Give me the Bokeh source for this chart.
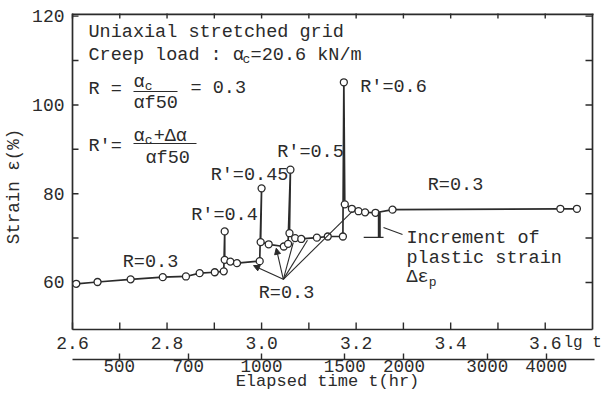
import math
from bokeh.plotting import figure
from bokeh.models import (LinearAxis, FixedTicker, CustomJSTickFormatter, Label, Arrow,
                          NormalHead)
from bokeh.core.properties import value
from bokeh.embed import file_html
from bokeh.resources import INLINE

# ---------------- data ----------------
lg_t = [2.608, 2.653, 2.723, 2.791, 2.840, 2.869, 2.901, 2.920,
        2.922, 2.922, 2.934, 2.948, 2.996,
        3.000, 2.998, 3.015, 3.047, 3.056,
        3.061, 3.059, 3.071, 3.084, 3.117, 3.140, 3.172,
        3.174, 3.176, 3.191, 3.205, 3.219, 3.241, 3.277, 3.632, 3.667]
strain = [59.7, 60.1, 60.7, 61.2, 61.35, 62.1, 62.3, 62.5,
          71.5, 65.1, 64.7, 64.35, 64.8,
          81.2, 69.1, 68.6, 68.1, 68.7,
          85.4, 71.1, 70.0, 69.8, 70.1, 70.35, 70.35,
          105.1, 77.6, 76.6, 76.05, 75.8, 75.7, 76.4, 76.6, 76.6]

load_labels = ["R=0.3", "R'=0.4", "R'=0.45", "R'=0.5", "R'=0.6", "R=0.3", "R=0.3"]

lg_major = [2.6, 2.8, 3.0, 3.2, 3.4, 3.6]
lg_minor = [2.7, 2.9, 3.1, 3.3, 3.5]
strain_major = [60, 80, 100, 120]
strain_minor = [70, 90, 110]
hour_ticks = [500, 700, 1000, 1500, 2000, 3000, 4000]

# leader lines from the middle "R=0.3" label to the R=0.3 stages
leader_lgt = [2.983, 3.031, 3.067, 3.097, 3.192]
leader_strain = [63.8, 67.7, 69.0, 69.5, 76.0]
leader_origin = (3.046, 60.7)

# increment of plastic strain marker
inc_lgt = 3.249
inc_low = 70.15
inc_high = 75.8

# ---------------- layout ----------------
XB0, XB1 = 2.6, 3.70          # lg t extent of the box
YB0, YB1 = 49.4, 120.6        # strain extent of the box
BL, BR, BT, BB = 72, 592, 13, 329     # box edges on the canvas (px)
FL, FR, FT, FB = 54, 600, 13, 359     # plotting frame edges (px), FB = hour axis line
W = 611

INK = "#2b2b2b"
FONT = "Liberation Mono"


def px_x(px):
    return XB0 + (px - BL) * (XB1 - XB0) / (BR - BL)


def px_y(py):
    return YB1 - (py - BT) * (YB1 - YB0) / (BB - BT)


DX = (XB1 - XB0) / (BR - BL)   # lg units per pixel
DY = (YB1 - YB0) / (BB - BT)   # strain units per pixel

p = figure(frame_width=FR - FL, frame_height=FB - FT,
           x_range=(px_x(FL), px_x(FR)), y_range=(px_y(FB), px_y(FT)),
           x_axis_type=None, y_axis_type=None,
           output_backend="svg", toolbar_location=None,
           min_border_left=FL, min_border_right=W - FR,
           min_border_top=FT, min_border_bottom=33)
p.background_fill_color = "white"
p.border_fill_color = "white"
p.outline_line_color = None

# elapsed hours axis (real bottom axis of the frame)
xh = LinearAxis(ticker=FixedTicker(ticks=[math.log10(h) for h in hour_ticks], minor_ticks=[]),
                formatter=CustomJSTickFormatter(code="return Math.round(Math.pow(10, tick)).toString()"),
                bounds=(XB0, XB1 + 1.5 * DX), axis_label="Elapsed time t(hr)")
xh.axis_line_color = INK
xh.axis_line_width = 1.6
xh.major_tick_line_color = INK
xh.major_tick_line_width = 1.4
xh.major_tick_in = 6
xh.major_tick_out = 0
xh.major_label_standoff = 0
xh.major_label_text_font = FONT
xh.major_label_text_font_size = "17.5px"
xh.major_label_text_color = INK
xh.axis_label_standoff = -3
xh.axis_label_text_font = FONT
xh.axis_label_text_font_size = "17px"
xh.axis_label_text_font_style = "normal"
xh.axis_label_text_color = INK
p.add_layout(xh, "below")

# left strain axis: labels only (the box edge and its ticks are drawn below)
yl = LinearAxis(ticker=FixedTicker(ticks=strain_major, minor_ticks=[]),
                axis_label="Strain ε(%)")
yl.axis_line_color = None
yl.major_tick_line_color = None
yl.major_tick_in = 0
yl.major_tick_out = 0
yl.major_label_standoff = -(BL - FL - 8)
yl.major_label_text_font = FONT
yl.major_label_text_font_size = "18px"
yl.major_label_text_color = INK
yl.axis_label_text_font = FONT
yl.axis_label_text_font_size = "17.5px"
yl.axis_label_text_font_style = "normal"
yl.axis_label_text_color = INK
yl.axis_label_standoff = 5
p.add_layout(yl, "left")

# box around the strain / lg t area
p.segment(x0=[XB0, XB1], y0=[YB0, YB0], x1=[XB0, XB1], y1=[YB1, YB1], line_color=INK, line_width=1.7)
p.segment(x0=[XB0], y0=[YB1], x1=[XB1 + DX], y1=[YB1], line_color=INK, line_width=3.4)
p.segment(x0=[XB0], y0=[YB0], x1=[XB1], y1=[YB0], line_color=INK, line_width=1.7)

# inward ticks: lg t scale on bottom and top, strain scale on left and right
lg_ticks = lg_major + lg_minor
p.segment(x0=lg_ticks, y0=[YB0] * len(lg_ticks), x1=lg_ticks, y1=[YB0 + 7 * DY] * len(lg_ticks),
          line_color=INK, line_width=1.4)
p.scatter(lg_ticks, [YB1] * len(lg_ticks), marker="dash", angle=math.pi / 2, size=10,
          line_color=INK, line_width=1.4)
s_ticks = strain_major + strain_minor
p.segment(x0=[XB0] * len(s_ticks), y0=s_ticks, x1=[XB0 + 6 * DX] * len(s_ticks), y1=s_ticks,
          line_color=INK, line_width=1.4)
p.segment(x0=[XB1] * len(s_ticks), y0=s_ticks, x1=[XB1 - 7 * DX] * len(s_ticks), y1=s_ticks,
          line_color=INK, line_width=1.4)

# lg t tick labels
lg_labels = [f"{v:.1f}" for v in lg_major]
p.text(x=lg_major, y=[px_y(342)] * len(lg_major), text=lg_labels, text_font=value(FONT),
       text_font_size="18px", text_align="center", text_baseline="middle", text_color=INK)

# ---------------- data marks ----------------
p.line(lg_t, strain, line_color=INK, line_width=1.7)
p.scatter(lg_t, strain, marker="circle", size=7, fill_color="white",
          line_color=INK, line_width=1.3)

# leader lines
for i, (lx, ly) in enumerate(zip(leader_lgt, leader_strain)):
    if i < 2:
        p.add_layout(Arrow(x_start=leader_origin[0], y_start=leader_origin[1], x_end=lx, y_end=ly,
                           line_color=INK, line_width=1.1,
                           end=NormalHead(size=6, fill_color=INK, line_color=INK)))
    else:
        p.segment(x0=[leader_origin[0]], y0=[leader_origin[1]], x1=[lx], y1=[ly],
                  line_color=INK, line_width=1.1)

# increment of plastic strain
p.segment(x0=[inc_lgt], y0=[inc_low], x1=[inc_lgt], y1=[inc_high], line_color=INK, line_width=3)
p.segment(x0=[inc_lgt - 0.033], y0=[inc_low], x1=[inc_lgt + 0.009], y1=[inc_low],
          line_color=INK, line_width=1.3)
p.segment(x0=[px_x(383)], y0=[px_y(227)], x1=[px_x(402)], y1=[px_y(234)],
          line_color=INK, line_width=1.1)


# ---------------- texts ----------------
def note(text, px, py, size="18.5px", align="left", angle=0.0):
    p.add_layout(Label(x=px_x(px), y=px_y(py), text=text, text_font=FONT,
                       text_font_size=size, text_align=align, text_baseline="middle",
                       text_color=INK, angle=angle))


CW = 11.15  # char advance at 18.5px
SUB = "13px"

note("Uniaxial stretched grid", 88, 32)
note("Creep load : α", 88, 55)
note("c", 88 + 14 * CW - 2, 59, size=SUB)
note("=20.6 kN/m", 88 + 14 * CW + 6, 55)

note("R = ", 88, 89)
note("α", 133, 82)
note("c", 133 + CW, 86, size=SUB)
note("αf50", 133, 103)
note("= 0.3", 190, 88)
p.segment(x0=[px_x(133)], y0=[px_y(91)], x1=[px_x(177)], y1=[px_y(91)], line_color=INK, line_width=1.2)

note("R'= ", 88, 146)
note("α", 133, 136)
note("c", 133 + CW, 140, size=SUB)
note("+Δα", 133 + CW + 9, 136)
note("αf50", 145, 158)
p.segment(x0=[px_x(133)], y0=[px_y(143)], x1=[px_x(196)], y1=[px_y(143)], line_color=INK, line_width=1.2)

label_pos = [(150, 262), (224, 215), (249, 175), (310, 152), (393, 87), (455, 185), (286, 293)]
for t, (lx, ly) in zip(load_labels, label_pos):
    note(t, lx, ly, align="center")

note("Increment of", 406, 238)
note("plastic strain", 406, 258)
note("Δε", 406, 277)
note("p", 406 + 2 * CW, 282, size=SUB)

note("lg t", 563, 342, size="16px")

open("out.html", "w").write(file_html(p, INLINE))
